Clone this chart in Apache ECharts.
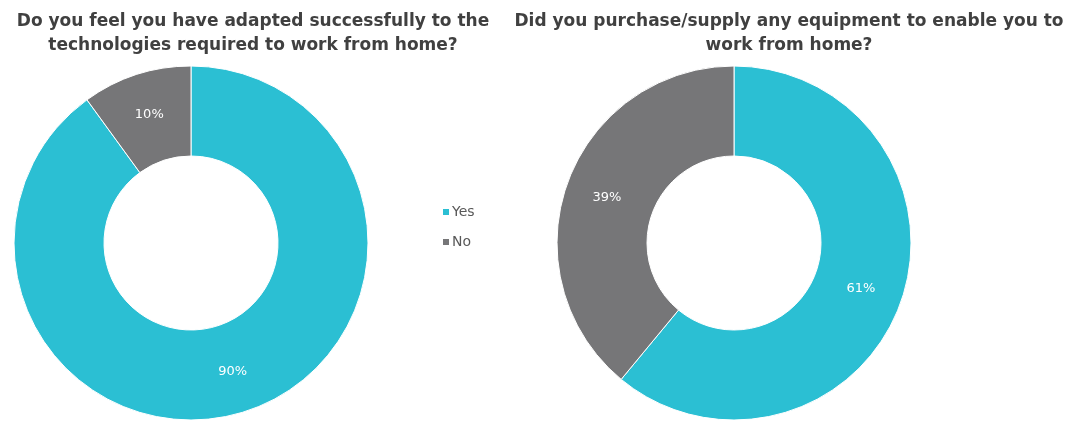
<!DOCTYPE html>
<html><head><meta charset="utf-8">
<script src="https://cdn.jsdelivr.net/npm/echarts@6/dist/echarts.min.js"></script>
<style>html,body{margin:0;padding:0;background:#fff}#c{width:1072px;height:421px}</style>
</head><body><div id="c"></div>
<script>
const categories = ['Yes', 'No'];
const adaptedValues = [90, 10];
const equipmentValues = [61, 39];
const titles = [
  'Do you feel you have adapted successfully to the\ntechnologies required to work from home?',
  'Did you purchase/supply any equipment to enable you to\nwork from home?'
];
const colors = ['#2BBFD3', '#767678'];

const chart = echarts.init(document.getElementById('c'));
const titleStyle = {fontFamily: 'DejaVu Sans', fontWeight: 'bold', fontSize: 17, color: '#404040', lineHeight: 24};
const labelCfg = {show: true, position: 'inside', formatter: '{c}%', color: '#fff', fontFamily: 'DejaVu Sans', fontSize: 13};
function pieSeries(center, values) {
  return {
    type: 'pie', center: center, radius: [87, 177], startAngle: 90, clockwise: true,
    avoidLabelOverlap: false, silent: true,
    itemStyle: {borderColor: '#fff', borderWidth: 1},
    label: labelCfg, labelLine: {show: false},
    data: categories.map((c, i) => ({name: c, value: values[i]}))
  };
}
chart.setOption({
  animation: false,
  color: colors,
  title: [
    {text: titles[0], left: 248, top: 5, textAlign: 'center', textStyle: titleStyle},
    {text: titles[1], left: 784, top: 5, textAlign: 'center', textStyle: titleStyle}
  ],
  legend: {
    orient: 'vertical', left: 436, top: 199, itemWidth: 8, itemHeight: 8, itemGap: 14, icon: 'rect',
    data: categories, textStyle: {fontFamily: 'DejaVu Sans', fontSize: 14, color: '#595959', lineHeight: 16, padding: [0, 0, 0, -3]}
  },
  series: [pieSeries([191, 243], adaptedValues), pieSeries([734, 243], equipmentValues)]
});
</script></body></html>
